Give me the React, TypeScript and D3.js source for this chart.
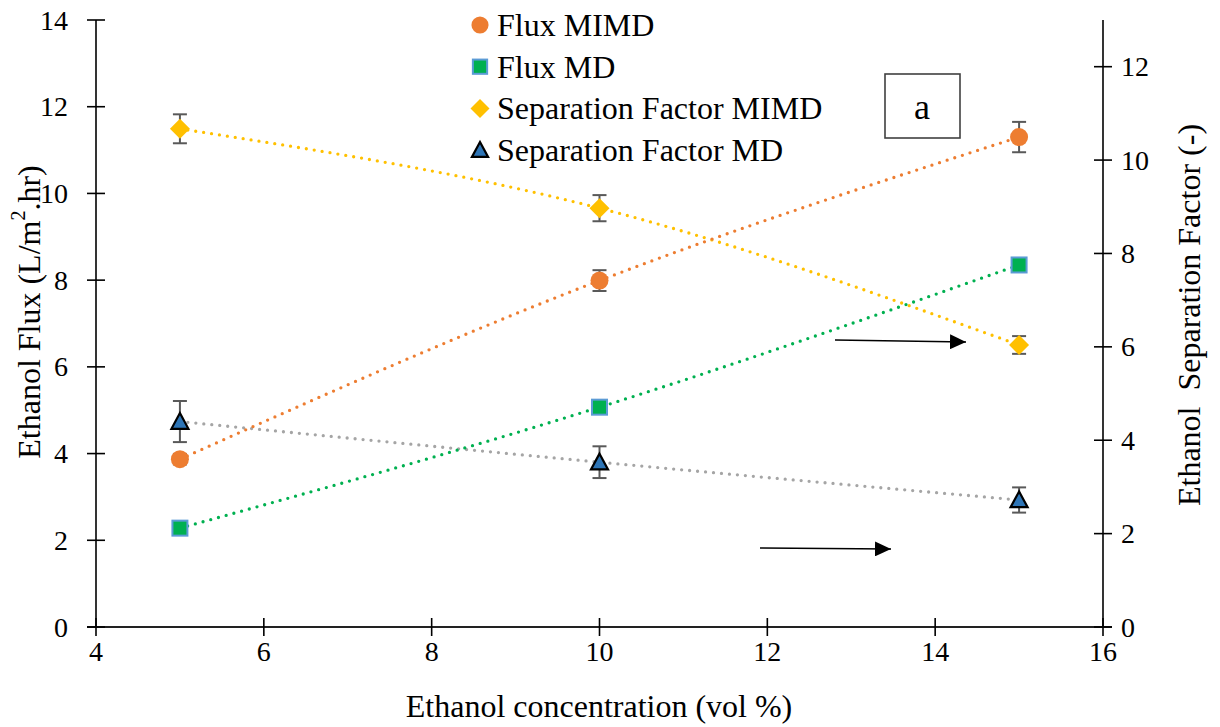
import React from "react";
import * as d3 from "d3";

const conc = [5, 10, 15];
const fluxMIMD = [3.87, 7.99, 11.3];
const fluxMIMDErr = [0.12, 0.24, 0.35];
const fluxMD = [2.28, 5.07, 8.35];
const fluxMDErr = [0.06, 0.08, 0.08];
const sfMIMD = [10.67, 8.97, 6.04];
const sfMIMDErr = [0.31, 0.28, 0.19];
const sfMD = [4.4, 3.53, 2.72];
const sfMDErr = [0.44, 0.34, 0.27];
const xTicks = [4, 6, 8, 10, 12, 14, 16];
const yLeftTicks = [0, 2, 4, 6, 8, 10, 12, 14];
const yRightTicks = [0, 2, 4, 6, 8, 10, 12];
const legendLabels = ["Flux MIMD", "Flux MD", "Separation Factor MIMD", "Separation Factor MD"];

const TS = { fontFamily: "Liberation Serif" };
const W = 1220, H = 727;
const L = 96, R = 1103, T = 20, B = 627;

const x = d3.scaleLinear().domain([4, 16]).range([L, R]);
const yL = d3.scaleLinear().domain([0, 14]).range([B, T]);
const yR = d3.scaleLinear().domain([0, 13]).range([B, T]);

const C_OR = "#ED7D31", C_GR = "#00B050", C_YE = "#FFC000", C_GY = "#A5A5A5", C_BL = "#2E75B6";

function Marker({ kind, cx, cy, s = 1 }: { kind: number; cx: number; cy: number; s?: number }) {
  if (kind === 0) return <circle cx={cx} cy={cy} r={9 * s} fill={C_OR} />;
  if (kind === 1)
    return <rect x={cx - 7.5 * s} y={cy - 7.5 * s} width={15 * s} height={15 * s} fill={C_GR} stroke="#5B9BD5" strokeWidth={2} />;
  if (kind === 2) {
    const r = 10 * s;
    return <path d={`M${cx},${cy - r}L${cx + r},${cy}L${cx},${cy + r}L${cx - r},${cy}Z`} fill={C_YE} />;
  }
  const h = 8.5 * s;
  return <path d={`M${cx},${cy - h}L${cx + h},${cy + h * 0.85}L${cx - h},${cy + h * 0.85}Z`} fill={C_BL} stroke="#000" strokeWidth={2.2} strokeLinejoin="miter" />;
}

export default function App() {
  const series = [
    { vals: fluxMIMD, err: fluxMIMDErr, y: yL, color: C_OR, kind: 0 },
    { vals: fluxMD, err: fluxMDErr, y: yL, color: C_GR, kind: 1 },
    { vals: sfMIMD, err: sfMIMDErr, y: yR, color: C_YE, kind: 2 },
    { vals: sfMD, err: sfMDErr, y: yR, color: C_GY, kind: 3 },
  ];
  const order = [3, 2, 0, 1];
  return (
    <svg width={W} height={H} style={{ position: "absolute", left: 0, top: 0, background: "#fff" }}>
      <defs>
        <marker id="arr" viewBox="0 0 10 10" refX="10" refY="5" markerWidth="16" markerHeight="15" markerUnits="userSpaceOnUse" orient="auto" preserveAspectRatio="none">
          <path d="M0,0L10,5L0,10Z" fill="#000" />
        </marker>
      </defs>
      {/* axes */}
      <line x1={L} x2={L} y1={T} y2={B} stroke="#000" strokeWidth={1.6} />
      <line x1={R} x2={R} y1={T} y2={B} stroke="#000" strokeWidth={1.6} />
      <line x1={L - 9} x2={R + 9} y1={B} y2={B} stroke="#222" strokeWidth={2.2} />
      {yLeftTicks.map((t) => (
        <g key={"l" + t}>
          <line x1={L - 9} x2={L + 9} y1={yL(t)} y2={yL(t)} stroke="#000" strokeWidth={1.6} />
          <text style={TS} x={L - 28} y={yL(t)} textAnchor="end" dominantBaseline="central" fontSize={28}>{t}</text>
        </g>
      ))}
      {yRightTicks.map((t) => (
        <g key={"r" + t}>
          <line x1={R - 9} x2={R + 9} y1={yR(t)} y2={yR(t)} stroke="#000" strokeWidth={1.6} />
          <text style={TS} x={R + 18} y={yR(t)} textAnchor="start" dominantBaseline="central" fontSize={28}>{t}</text>
        </g>
      ))}
      {xTicks.map((t) => (
        <g key={"x" + t}>
          <line x1={x(t)} x2={x(t)} y1={B - 9} y2={B + 9} stroke="#000" strokeWidth={1.6} />
          <text style={TS} x={x(t)} y={B + 24} textAnchor="middle" dominantBaseline="central" fontSize={28}>{t}</text>
        </g>
      ))}
      <text style={TS} x={599} y={717} textAnchor="middle" fontSize={32}>Ethanol concentration (vol %)</text>
      <text style={TS} transform={`translate(29,312) rotate(-90)`} textAnchor="middle" dominantBaseline="central" fontSize={32}>
        Ethanol Flux (L/m<tspan dy={-11} fontSize={20}>2</tspan><tspan dy={11}>.hr)</tspan>
      </text>
      <text style={{ ...TS, whiteSpace: "pre" }} transform={`translate(1189,315) rotate(-90)`} textAnchor="middle" dominantBaseline="central" fontSize={32}>
        Ethanol  Separation Factor (-)
      </text>
      {/* lines */}
      {order.map((i) => {
        const s = series[i];
        const line = d3.line<number>().x((_, j) => x(conc[j])).y((v) => s.y(v)).curve(d3.curveNatural);
        return (
          <path key={"p" + i} d={line(s.vals) || ""} fill="none" stroke={s.color} strokeWidth={3.3} strokeDasharray="0 8" strokeLinecap="round" />
        );
      })}
      {/* error bars */}
      {order.map((i) => {
        const s = series[i];
        return s.vals.map((v, j) => {
          const cx = x(conc[j]);
          const y1 = s.y(v + s.err[j]), y2 = s.y(v - s.err[j]);
          return (
            <g key={"e" + i + j} stroke="#595959" strokeWidth={2}>
              <line x1={cx} x2={cx} y1={y1} y2={y2} />
              <line x1={cx - 7} x2={cx + 7} y1={y1} y2={y1} />
              <line x1={cx - 7} x2={cx + 7} y1={y2} y2={y2} />
            </g>
          );
        });
      })}
      {/* markers */}
      {order.map((i) => {
        const s = series[i];
        return s.vals.map((v, j) => <Marker key={"m" + i + j} kind={s.kind} cx={x(conc[j])} cy={s.y(v)} />);
      })}
      {/* legend */}
      {legendLabels.map((lab, i) => (
        <g key={"lg" + i}>
          <Marker kind={i} cx={480} cy={25 + i * 41.7} s={0.95} />
          <text style={TS} x={497} y={25 + i * 41.7} dominantBaseline="central" fontSize={32}>{lab}</text>
        </g>
      ))}
      {/* label box */}
      <rect x={885} y={74} width={75} height={64} fill="#fff" stroke="#404040" strokeWidth={1.6} />
      <text style={TS} x={922} y={119} textAnchor="middle" fontSize={36}>a</text>
      {/* arrows */}
      <line x1={835} y1={340} x2={966} y2={342} stroke="#000" strokeWidth={1.5} markerEnd="url(#arr)" />
      <line x1={760} y1={548} x2={891} y2={549} stroke="#000" strokeWidth={1.5} markerEnd="url(#arr)" />
    </svg>
  );
}
